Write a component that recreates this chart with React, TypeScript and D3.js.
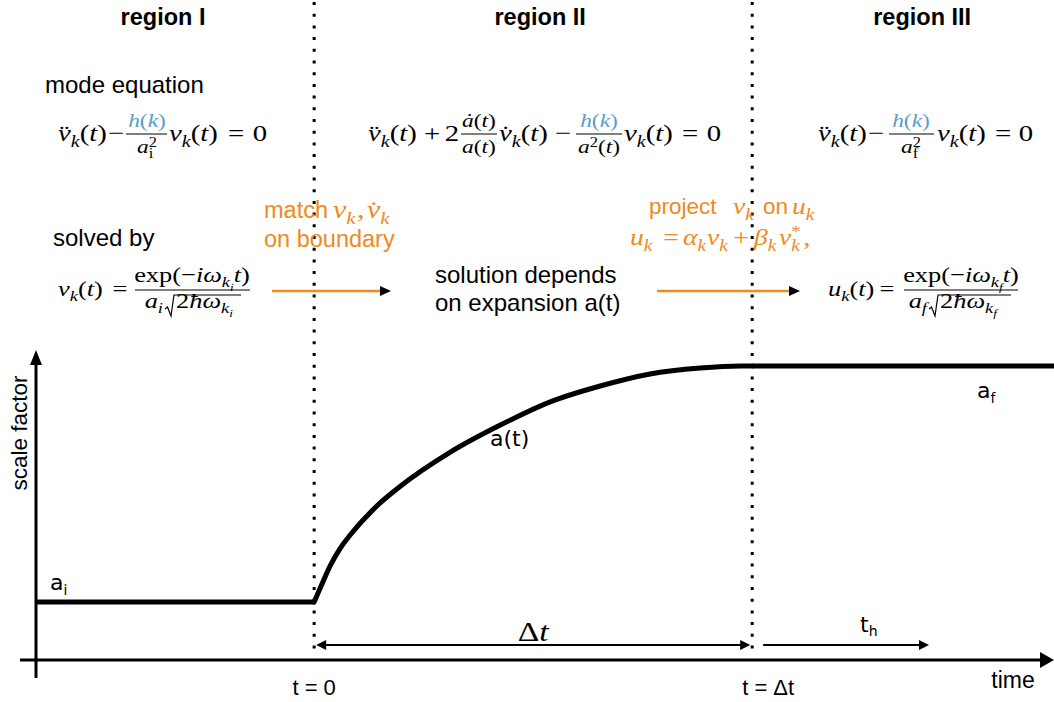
import React from 'react';
import * as d3 from 'd3';

const W = 1054;
const H = 702;

// ---- data (time in units of Δt, scale factor normalised to a_f = 1) ----
const tStart = -0.635;
const tEnd = 1.689;
const aInitial = 0.197;
const aFinal = 1.0;
const boundaries = [0, 1];
const regionLabels = ['region I', 'region II', 'region III'];
const regionCenters = [-0.345, 0.516, 1.388];
const curveT = [0, 0.0183, 0.0365, 0.0594, 0.0822, 0.139, 0.196, 0.311, 0.425, 0.539, 0.653, 0.767, 0.881, 0.973, 1.0];
const curveA = [0.197, 0.26, 0.32, 0.38, 0.425, 0.518, 0.59, 0.707, 0.799, 0.878, 0.932, 0.973, 0.993, 1.0, 1.0];
const tickLabels = ['t = 0', 't = Δt'];

const ORANGE = '#EE8A20';
const BLUE = '#5E9DC8';
const SANS = "'Liberation Sans', Arial, Helvetica, sans-serif";
const DSANS = "'DejaVu Sans', sans-serif";
const SERIF = "'Liberation Serif', 'DejaVu Serif', serif";
const SX = 1.2; // horizontal stretch to mimic Computer Modern widths

type Part = [string, string?, number?];

function MT({ x, y, size, anchor = 'start', fill = '#000', parts }: { x: number; y: number; size: number; anchor?: string; fill?: string; parts: Part[] }) {
  let cur = 0;
  return (
    <g transform={`translate(${x},${y}) scale(${SX},1)`}>
      <text x={0} y={0} fontSize={size} textAnchor={anchor} fill={fill} fontFamily={SERIF}>
        {parts.map(([t, f = '', dx], i) => {
          const lvl = f.includes('B') ? 0.42 : f.includes('b') ? 0.24 : f.includes('p') ? -0.33 : 0;
          const fs = f.includes('B') ? 0.5 : f.includes('b') || f.includes('p') ? 0.7 : 1;
          const dy = (lvl - cur) * size;
          cur = lvl;
          return (
            <tspan key={i} dy={dy} dx={dx || 0} fontSize={fs * size} fontStyle={f.includes('i') ? 'italic' : 'normal'}>
              {t}
            </tspan>
          );
        })}
      </text>
    </g>
  );
}

function Frac({ cx, bar, x0, x1, size, num, den, numFill, nOff, dOff }: { cx: number; bar: number; x0: number; x1: number; size: number; num: Part[]; den?: Part[]; numFill?: string; nOff: number; dOff: number }) {
  return (
    <g>
      <MT x={cx} y={bar - nOff} size={size} anchor="middle" parts={num} fill={numFill} />
      <line x1={x0} x2={x1} y1={bar} y2={bar} stroke="#000" strokeWidth={1} />
      {den && <MT x={cx} y={bar + dOff} size={size} anchor="middle" parts={den} />}
    </g>
  );
}

function Radical({ x0, x1, yTop, yBot }: { x0: number; x1: number; yTop: number; yBot: number }) {
  const ym = yBot - 8;
  return <path d={`M${x0},${ym + 1} L${x0 + 2.5},${ym - 1} L${x0 + 6},${yBot} L${x0 + 9},${yTop} L${x1},${yTop}`} fill="none" stroke="#000" strokeWidth={1.2} />;
}

const vdd: Part[] = [['v\u0308', 'i'], ['k', 'ib'], ['(', ''], ['t', 'i'], [')', '']];
const vdot: Part[] = [['v\u0307', 'i'], ['k', 'ib'], ['(', ''], ['t', 'i'], [')', '']];
const vk: Part[] = [['v', 'i'], ['k', 'ib'], ['(', ''], ['t', 'i'], [')', '']];
const hk: Part[] = [['h', 'i'], ['(', ''], ['k', 'i'], [')', '']];

function OrangeArrow({ x0, x1, y }: { x0: number; x1: number; y: number }) {
  return (
    <g>
      <line x1={x0} x2={x1 - 8} y1={y} y2={y} stroke={ORANGE} strokeWidth={2.5} />
      <path d={`M${x1},${y} L${x1 - 11},${y - 5} L${x1 - 11},${y + 5} Z`} fill="#000" />
    </g>
  );
}

export default function App() {
  const x = d3.scaleLinear().domain([tStart, tEnd]).range([36, 1054]);
  const y = d3.scaleLinear().domain([0, 1]).range([660, 366]);

  const pts: [number, number][] = curveT.map((t, i) => [t, curveA[i]]);
  const lin = d3.line<[number, number]>().x((d) => x(d[0])).y((d) => y(d[1]));
  const curvePath = d3.line<[number, number]>().x((d) => x(d[0])).y((d) => y(d[1])).curve(d3.curveMonotoneX)(pts);
  const flatI = lin([
    [tStart, aInitial],
    [0, aInitial],
  ]);
  const flatIII = lin([
    [1, aFinal],
    [tEnd, aFinal],
  ]);

  const axY = y(0);
  const xb0 = x(boundaries[0]);
  const xb1 = x(boundaries[1]);

  const M = 24; // main math size
  const F = 19.5; // inline fraction size
  const B1 = 141;
  const bar1 = 134;
  const S2 = 22;
  const B2 = 296;
  const bar2 = 290;
  const den2 = 308;

  const f1 = { size: F, bar: bar1, nOff: 7, dOff: 19 };
  const op = (cx: number, s: string, size = M, yy = B1, fill = '#000') => <MT x={cx} y={yy} size={size} anchor="middle" fill={fill} parts={[[s, '']]} />;

  return (
    <svg width={W} height={H} style={{ position: 'absolute', left: 0, top: 0, background: '#fff' }}>
      <rect width={W} height={H} fill="#fff" />
      {/* dotted boundaries */}
      {boundaries.map((b) => (
        <line key={b} x1={x(b)} x2={x(b)} y1={2} y2={654} stroke="#000" strokeWidth={3} strokeDasharray="3 8.7" />
      ))}

      {/* region titles */}
      {regionLabels.map((r, i) => (
        <text key={r} x={x(regionCenters[i])} y={25} textAnchor="middle" fontFamily={SANS} fontWeight="bold" fontSize={23.5}>
          {r}
        </text>
      ))}

      {/* mode equation */}
      <text x={45} y={93} fontFamily={SANS} fontSize={24}>mode equation</text>

      {/* region I equation */}
      <MT x={58} y={B1} size={M} parts={vdd} />
      {op(116, '−')}
      <Frac cx={147} x0={126} x1={167} {...f1} num={hk} numFill={BLUE} den={[['a', 'i'], ['2', 'p'], ['i', 'b', -6.8]]} />
      <MT x={169} y={B1} size={M} parts={vk} />
      {op(236, '=')}
      {op(260, '0')}

      {/* region II equation */}
      <MT x={368} y={B1} size={M} parts={vdd} />
      {op(432, '+')}
      {op(452, '2')}
      <Frac cx={479} x0={461} x1={497} {...f1} num={[['a\u0307', 'i'], ['(', ''], ['t', 'i'], [')', '']]} den={[['a', 'i'], ['(', ''], ['t', 'i'], [')', '']]} />
      <MT x={499} y={B1} size={M} parts={vdot} />
      {op(563, '−')}
      <Frac cx={599} x0={576} x1={622} {...f1} num={hk} numFill={BLUE} den={[['a', 'i'], ['2', 'p'], ['(', ''], ['t', 'i'], [')', '']]} />
      <MT x={624} y={B1} size={M} parts={vk} />
      {op(690, '=')}
      {op(714, '0')}

      {/* region III equation */}
      <MT x={818} y={B1} size={M} parts={vdd} />
      {op(876, '−')}
      <Frac cx={911} x0={889} x1={934} {...f1} num={hk} numFill={BLUE} den={[['a', 'i'], ['2', 'p'], ['f', 'b', -6.8]]} />
      <MT x={937} y={B1} size={M} parts={vk} />
      {op(1003, '=')}
      {op(1026, '0')}

      {/* solved by */}
      <text x={53} y={246} fontFamily={SANS} fontSize={24}>solved by</text>
      <MT x={58} y={B2} size={S2} parts={vk} />
      {op(120, '=', S2, B2)}
      <Frac cx={192} x0={135} x1={250} size={S2} bar={bar2} nOff={8} dOff={18} num={[['exp(−', ''], ['iω', 'i'], ['k', 'ib'], ['i', 'iB'], ['t', 'i'], [')', '']]} />
      <MT x={163} y={den2} size={S2} anchor="end" parts={[['a', 'i'], ['i', 'ib']]} />
      <Radical x0={165} x1={241} yTop={bar2 + 5} yBot={den2 + 8} />
      <MT x={176} y={den2} size={S2} parts={[['2', ''], ['ħω', 'i'], ['k', 'ib'], ['i', 'iB']]} />

      {/* match on boundary */}
      <text x={264} y={218} fontFamily={SANS} fontSize={23.5} fill={ORANGE}>match</text>
      <MT x={333} y={218} size={25} fill={ORANGE} parts={[['v', 'i'], ['k', 'ib']]} />
      <MT x={357} y={218} size={25} fill={ORANGE} parts={[[',', '']]} />
      <MT x={367} y={218} size={25} fill={ORANGE} parts={[['v\u0307', 'i'], ['k', 'ib']]} />
      <text x={264} y={247} fontFamily={SANS} fontSize={23.5} fill={ORANGE}>on boundary</text>
      <OrangeArrow x0={272} x1={391} y={291} />

      {/* region II text */}
      <text x={435} y={283} fontFamily={SANS} fontSize={24}>solution depends</text>
      <text x={435} y={311} fontFamily={SANS} fontSize={24}>on expansion a(t)</text>

      {/* project */}
      <text x={649} y={214} fontFamily={SANS} fontSize={22.5} fill={ORANGE}>project</text>
      <MT x={733} y={214} size={23} fill={ORANGE} parts={[['v', 'i'], ['k', 'ib']]} />
      <text x={763} y={214} fontFamily={SANS} fontSize={22.5} fill={ORANGE}>on</text>
      <MT x={792} y={214} size={23} fill={ORANGE} parts={[['u', 'i'], ['k', 'ib']]} />
      <MT x={630} y={245} size={23} fill={ORANGE} parts={[['u', 'i'], ['k', 'ib']]} />
      {op(671, '=', 23, 245, ORANGE)}
      <MT x={683} y={245} size={23} fill={ORANGE} parts={[['α', 'i'], ['k', 'ib']]} />
      <MT x={707} y={245} size={23} fill={ORANGE} parts={[['v', 'i'], ['k', 'ib']]} />
      {op(741, '+', 23, 245, ORANGE)}
      <MT x={754} y={245} size={23} fill={ORANGE} parts={[['β', 'i'], ['k', 'ib']]} />
      <MT x={779} y={245} size={23} fill={ORANGE} parts={[['v', 'i'], ['*', 'p'], ['k', 'ib', -8], [',', '', 3]]} />
      <OrangeArrow x0={657} x1={800} y={291} />

      {/* region III solution */}
      <MT x={828} y={B2} size={S2} parts={[['u', 'i'], ['k', 'ib'], ['(', ''], ['t', 'i'], [')', '']]} />
      {op(887, '=', S2, B2)}
      <Frac cx={961} x0={904} x1={1018} size={S2} bar={bar2} nOff={8} dOff={18} num={[['exp(−', ''], ['iω', 'i'], ['k', 'ib'], ['f', 'iB'], ['t', 'i'], [')', '']]} />
      <MT x={927} y={den2} size={S2} anchor="end" parts={[['a', 'i'], ['f', 'ib']]} />
      <Radical x0={929} x1={1011} yTop={bar2 + 5} yBot={den2 + 8} />
      <MT x={940} y={den2} size={S2} parts={[['2', ''], ['ħω', 'i'], ['k', 'ib'], ['f', 'iB']]} />

      {/* axes */}
      <line x1={36} x2={36} y1={362} y2={678} stroke="#000" strokeWidth={3} />
      <path d={`M36,350 L30,365 L42,365 Z`} fill="#000" />
      <line x1={20} x2={1042} y1={axY} y2={axY} stroke="#000" strokeWidth={3} />
      <path d={`M1054,${axY} L1040,${axY - 8} L1040,${axY + 8} Z`} fill="#000" />
      <text transform="translate(27,433) rotate(-90)" textAnchor="middle" fontFamily={SANS} fontSize={22.5}>scale factor</text>
      <text x={1013} y={688} textAnchor="middle" fontFamily={SANS} fontSize={23}>time</text>
      <text x={xb0} y={695} textAnchor="middle" fontFamily={SANS} fontSize={22}>{tickLabels[0]}</text>
      <text x={xb1 + 16} y={695} textAnchor="middle" fontFamily={SANS} fontSize={22}>{tickLabels[1]}</text>

      {/* scale factor curve */}
      <path d={flatI ?? ''} fill="none" stroke="#000" strokeWidth={5} />
      <path d={curvePath ?? ''} fill="none" stroke="#000" strokeWidth={5} strokeLinecap="round" />
      <path d={flatIII ?? ''} fill="none" stroke="#000" strokeWidth={5} />

      {/* curve labels */}
      <text x={50} y={590} fontFamily={DSANS} fontSize={22}>
        a<tspan fontSize={14} dy={5}>i</tspan>
      </text>
      <text x={977} y={398} fontFamily={DSANS} fontSize={22}>
        a<tspan fontSize={14} dy={5}>f</tspan>
      </text>
      <text x={490} y={446} fontFamily={DSANS} fontSize={22}>a(t)</text>

      {/* Δt arrow */}
      <line x1={xb0 + 8} x2={xb1 - 8} y1={645} y2={645} stroke="#000" strokeWidth={2} />
      <path d={`M${xb0 + 2},645 L${xb0 + 12},640 L${xb0 + 12},650 Z`} fill="#000" />
      <path d={`M${xb1 - 2},645 L${xb1 - 12},640 L${xb1 - 12},650 Z`} fill="#000" />
      <MT x={(xb0 + xb1) / 2} y={641} size={28} anchor="middle" parts={[['Δ', ''], ['t', 'i']]} />

      {/* t_h arrow */}
      <line x1={x(1.025)} x2={920} y1={645} y2={645} stroke="#000" strokeWidth={2} />
      <path d={`M929,645 L919,640 L919,650 Z`} fill="#000" />
      <text x={860} y={632} fontFamily={DSANS} fontSize={22}>
        t<tspan fontSize={14} dy={4}>h</tspan>
      </text>
    </svg>
  );
}
